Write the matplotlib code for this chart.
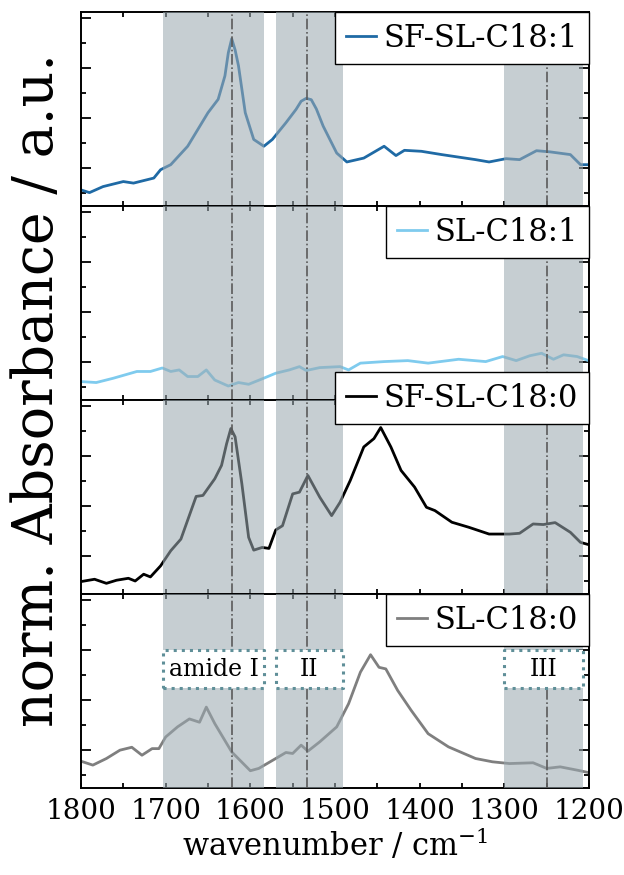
import numpy as np
import matplotlib.pyplot as plt
from matplotlib.ticker import MultipleLocator

plt.rcParams['font.family'] = ['DejaVu Serif']

# espectros (numero de onda en cm-1, absorbancia normalizada 0..1 por panel)
wn_sf_c181 = [1800, 1790, 1774, 1750, 1738, 1714, 1706, 1694, 1674, 1650, 1638, 1630, 1626, 1622,
              1618, 1614, 1606, 1596, 1584, 1574, 1558, 1546, 1540, 1534, 1528, 1522, 1514, 1498,
              1486, 1466, 1442, 1428, 1418, 1398, 1374, 1334, 1318, 1298, 1282, 1262, 1246, 1222,
              1210, 1200]
ab_sf_c181 = [0.083, 0.069, 0.100, 0.126, 0.118, 0.144, 0.187, 0.213, 0.308, 0.481, 0.550, 0.671,
              0.790, 0.862, 0.805, 0.723, 0.481, 0.343, 0.308, 0.343, 0.429, 0.498, 0.540, 0.555,
              0.548, 0.500, 0.412, 0.273, 0.227, 0.247, 0.308, 0.260, 0.287, 0.282, 0.265, 0.239,
              0.227, 0.244, 0.239, 0.285, 0.279, 0.265, 0.213, 0.213]

wn_sl_c181 = [1800, 1782, 1762, 1734, 1718, 1704, 1694, 1684, 1674, 1662, 1652, 1642, 1626, 1614,
              1602, 1586, 1570, 1554, 1542, 1534, 1518, 1494, 1484, 1470, 1442, 1414, 1390, 1354,
              1322, 1302, 1286, 1270, 1256, 1242, 1230, 1214, 1200]
ab_sl_c181 = [0.095, 0.090, 0.112, 0.147, 0.147, 0.165, 0.147, 0.155, 0.121, 0.121, 0.155, 0.103,
              0.072, 0.090, 0.081, 0.109, 0.138, 0.155, 0.172, 0.152, 0.167, 0.172, 0.155, 0.190,
              0.198, 0.203, 0.190, 0.210, 0.198, 0.224, 0.203, 0.228, 0.241, 0.210, 0.233, 0.224,
              0.202]

wn_sf_c180 = [1800, 1784, 1770, 1758, 1744, 1736, 1726, 1718, 1706, 1694, 1682, 1664, 1656, 1642,
              1634, 1628, 1623, 1618, 1610, 1602, 1596, 1586, 1578, 1570, 1562, 1550, 1542, 1532,
              1518, 1504, 1494, 1482, 1466, 1454, 1446, 1434, 1422, 1406, 1392, 1382, 1362, 1342,
              1318, 1294, 1282, 1266, 1254, 1240, 1222, 1210, 1200]
ab_sf_c180 = [0.064, 0.076, 0.055, 0.071, 0.081, 0.067, 0.102, 0.088, 0.145, 0.223, 0.283, 0.503,
              0.508, 0.594, 0.663, 0.775, 0.853, 0.810, 0.568, 0.292, 0.226, 0.240, 0.235, 0.330,
              0.352, 0.516, 0.525, 0.611, 0.499, 0.404, 0.473, 0.585, 0.758, 0.801, 0.858, 0.758,
              0.637, 0.551, 0.447, 0.430, 0.370, 0.344, 0.309, 0.309, 0.313, 0.361, 0.358, 0.368,
              0.318, 0.266, 0.254]

wn_sl_c180 = [1800, 1786, 1770, 1754, 1740, 1728, 1716, 1708, 1700, 1686, 1672, 1660, 1652, 1642,
              1622, 1600, 1590, 1570, 1558, 1550, 1540, 1532, 1518, 1498, 1484, 1470, 1458, 1448,
              1440, 1426, 1410, 1390, 1366, 1334, 1314, 1294, 1266, 1250, 1234, 1214, 1200]
ab_sl_c180 = [0.138, 0.118, 0.152, 0.195, 0.210, 0.169, 0.203, 0.203, 0.263, 0.315, 0.356, 0.339,
              0.417, 0.332, 0.186, 0.089, 0.101, 0.152, 0.183, 0.178, 0.221, 0.190, 0.238, 0.315,
              0.434, 0.597, 0.687, 0.622, 0.614, 0.503, 0.400, 0.280, 0.212, 0.152, 0.135, 0.126,
              0.130, 0.101, 0.109, 0.092, 0.079]

nombres = ["SF-SL-C18:1", "SL-C18:1", "SF-SL-C18:0", "SL-C18:0"]
colores = ["#1f6aa5", "#7fcbee", "#000000", "#7f7f7f"]
wn_series = [wn_sf_c181, wn_sl_c181, wn_sf_c180, wn_sl_c180]
ab_series = [ab_sf_c181, ab_sl_c181, ab_sf_c180, ab_sl_c180]

# bandas amida y lineas de referencia
bandas = [(1703, 1584), (1570, 1491), (1300, 1207)]
etiquetas_banda = ["amide I", "II", "III"]
picos = [1622, 1533, 1250]

fig, axes = plt.subplots(4, 1, figsize=(6.24, 8.75), dpi=100, sharex=True)
fig.subplots_adjust(left=81/624, right=589/624, top=1-12/875, bottom=1-788/875, hspace=0)

paso = 25/194
yticks = np.arange(0.067, 1.0, paso)

for i, ax in enumerate(axes):
    ax.plot(wn_series[i], ab_series[i], color=colores[i], linewidth=2.0, label=nombres[i])
    for (a, b) in bandas:
        ax.axvspan(a, b, color="#9ba9b0", alpha=0.57, linewidth=0, zorder=3)
    for p in picos:
        ax.axvline(p, color="#5a5a5a", linestyle="-.", linewidth=1.2, zorder=4)
    ax.set_xlim(1800, 1200)
    ax.set_ylim(0, 1)
    ax.set_yticks(yticks[1::2])
    ax.set_yticks(yticks[0::2], minor=True)
    ax.set_yticklabels([])
    ax.xaxis.set_major_locator(MultipleLocator(100))
    ax.xaxis.set_minor_locator(MultipleLocator(50))
    ax.tick_params(axis="both", which="both", direction="in", top=True, right=True, width=1.3)
    ax.tick_params(axis="y", which="major", length=7)
    ax.tick_params(axis="y", which="minor", length=3.6)
    ax.tick_params(axis="x", which="both", length=3.8)
    for s in ax.spines.values():
        s.set_linewidth(1.4)
    anclaje = 1.144 if i == 2 else 1.0
    leg = ax.legend(loc="upper right", bbox_to_anchor=(1.0, anclaje), fontsize=22,
                    frameon=True, fancybox=False, framealpha=1, edgecolor="black",
                    borderaxespad=0, handlelength=1.0, handletextpad=0.25, borderpad=0.35)
    leg.get_frame().set_linewidth(1.0)
    leg.set_zorder(10)

ax4 = axes[3]
for (a, b), txt in zip(bandas, etiquetas_banda):
    ax4.fill_between([a, b], 0.515, 0.711, facecolor="white", edgecolor="none", zorder=5)
    ax4.plot([a, b, b, a, a], [0.515, 0.515, 0.711, 0.711, 0.515], color="#5f8f98",
             linestyle=":", linewidth=2.2, zorder=6)
    ax4.text((a + b) / 2, 0.613, txt, ha="center", va="center", fontsize=17, zorder=7)

ax4.tick_params(axis="x", which="major", labelsize=20, pad=7)
ax4.set_xlabel("wavenumber / cm$^{\\mathregular{-1}}$", fontsize=22, labelpad=2)
fig.text(38/624, 1-390/875, "norm. Absorbance / a.u.", rotation=90, ha="center", va="center",
         fontsize=40)

plt.savefig("out.png", dpi=100)
